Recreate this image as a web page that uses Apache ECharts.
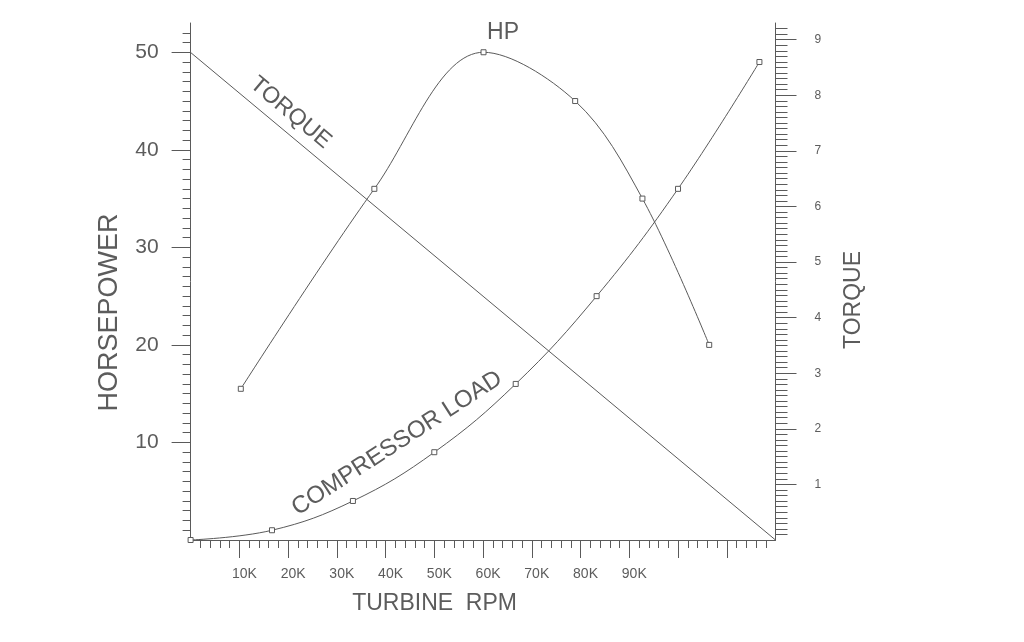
<!DOCTYPE html>
<html>
<head>
<meta charset="utf-8">
<script src="https://cdn.jsdelivr.net/npm/echarts@6/dist/echarts.min.js"></script>
<style>
  html, body { margin: 0; padding: 0; background: #ffffff; }
  #chart { width: 1024px; height: 642px; }
</style>
</head>
<body>
<div id="chart"></div>
<script>
// ---- data (RPM in thousands) ----
var hpRpm = [10.3, 37.7, 60.1, 78.9, 92.7, 106.4];
var hpValues = [15.5, 36, 50, 45, 35, 20];
var loadRpm = [0, 16.7, 33.3, 50, 66.7, 83.3, 100, 116.7];
var loadValues = [0, 1, 4, 9, 16, 25, 36, 49];
var torqueRpm = [0, 120];
var torqueValues = [8.77, 0];

var xTickValues = [10, 20, 30, 40, 50, 60, 70, 80, 90, 100, 110];
var xLabelValues = [10, 20, 30, 40, 50, 60, 70, 80, 90];
var xTickLabels = ['10K', '20K', '30K', '40K', '50K', '60K', '70K', '80K', '90K'];
var hpTickValues = [10, 20, 30, 40, 50];
var hpTickLabels = ['10', '20', '30', '40', '50'];
var torqueTickValues = [1, 2, 3, 4, 5, 6, 7, 8, 9];
var torqueTickLabels = ['1', '2', '3', '4', '5', '6', '7', '8', '9'];

// annotation anchors (data units: RPM K, horsepower)
var annotations = [
  { text: 'HP', at: [64.1, 52.0], rotate: 0, size: 23 },
  { text: 'TORQUE', at: [20.5, 43.8], rotate: -40, size: 23 },
  { text: 'COMPRESSOR LOAD', at: [42.35, 9.9], rotate: 33, size: 24 }
];

function zip(a, b) { return a.map(function (v, i) { return [v, b[i]]; }); }

var INK = '#5c5c5c';
var LINE = '#5a5a5a';
var FONT = '"Liberation Sans", Arial, sans-serif';

var chart = echarts.init(document.getElementById('chart'), null, { renderer: 'canvas' });

var option = {
  backgroundColor: '#ffffff',
  animation: false,
  textStyle: { fontFamily: FONT, color: INK },
  grid: { left: 190.6, right: 248.5, top: 23, bottom: 102 },
  xAxis: {
    type: 'value', min: 0, max: 120, interval: 10,
    name: 'TURBINE  RPM', nameLocation: 'middle', nameGap: 52,
    nameTextStyle: { fontSize: 23, color: INK, fontFamily: FONT, padding: [0, 97, 0, 0] },
    axisLine: { show: true, lineStyle: { color: LINE, width: 1 } },
    axisTick: { show: true, inside: false, length: 18, customValues: xTickValues, lineStyle: { color: LINE, width: 1 } },
    minorTick: { show: true, splitNumber: 5, length: 8, lineStyle: { color: LINE, width: 1 } },
    splitLine: { show: false },
    axisLabel: {
      customValues: xLabelValues, fontSize: 14, color: INK, margin: 27, fontFamily: FONT,
      padding: [0, 0, 0, 10],
      formatter: function (v) { var i = xLabelValues.indexOf(v); return i >= 0 ? xTickLabels[i] : ''; }
    }
  },
  yAxis: [
    {
      type: 'value', min: 0, max: 53, interval: 10, position: 'left',
      name: 'HORSEPOWER', nameLocation: 'middle', nameGap: 68, nameRotate: 90,
      nameTextStyle: { fontSize: 27, color: INK, fontFamily: FONT, padding: [0, 62, 0, 0] },
      axisLine: { show: true, lineStyle: { color: LINE, width: 1 } },
      axisTick: { show: true, inside: false, length: 19, customValues: hpTickValues, lineStyle: { color: LINE, width: 1 } },
      minorTick: { show: true, splitNumber: 10, length: 8, lineStyle: { color: LINE, width: 1 } },
      splitLine: { show: false },
      axisLabel: {
        customValues: hpTickValues, fontSize: 21, color: INK, margin: 32, fontFamily: FONT,
        formatter: function (v) { var i = hpTickValues.indexOf(v); return i >= 0 ? hpTickLabels[i] : ''; }
      }
    },
    {
      type: 'value', min: 0, max: 9.3, interval: 1, position: 'right',
      name: 'TORQUE', nameLocation: 'middle', nameGap: 67, nameRotate: 90,
      nameTextStyle: { fontSize: 23, color: INK, fontFamily: FONT, padding: [0, 37, 0, 0] },
      axisLine: { show: true, lineStyle: { color: LINE, width: 1 } },
      axisTick: { show: true, inside: false, length: 21, customValues: torqueTickValues, lineStyle: { color: LINE, width: 1 } },
      minorTick: { show: true, splitNumber: 10, length: 12, lineStyle: { color: LINE, width: 1 } },
      splitLine: { show: false },
      axisLabel: {
        customValues: torqueTickValues, fontSize: 12, color: INK, margin: 39, fontFamily: FONT,
        padding: [0, 0, 7, 0],
        formatter: function (v) { var i = torqueTickValues.indexOf(v); return i >= 0 ? torqueTickLabels[i] : ''; }
      }
    }
  ],
  series: [
    {
      name: 'HP', type: 'line', yAxisIndex: 0, data: zip(hpRpm, hpValues),
      smooth: 0.35, symbol: 'rect', symbolSize: 5, showSymbol: true,
      lineStyle: { color: LINE, width: 1 },
      itemStyle: { color: '#ffffff', borderColor: LINE, borderWidth: 1 }
    },
    {
      name: 'COMPRESSOR LOAD', type: 'line', yAxisIndex: 0, data: zip(loadRpm, loadValues),
      smooth: 0.4, symbol: 'rect', symbolSize: 5, showSymbol: true,
      lineStyle: { color: LINE, width: 1 },
      itemStyle: { color: '#ffffff', borderColor: LINE, borderWidth: 1 }
    },
    {
      name: 'TORQUE', type: 'line', yAxisIndex: 1, data: zip(torqueRpm, torqueValues),
      showSymbol: false, symbol: 'none',
      lineStyle: { color: LINE, width: 1 }
    }
  ]
};

chart.setOption(option);

var graphics = annotations.map(function (a) {
  var p = chart.convertToPixel({ xAxisIndex: 0, yAxisIndex: 0 }, a.at);
  return {
    type: 'text', x: p[0], y: p[1], rotation: a.rotate * Math.PI / 180,
    style: { text: a.text, fill: INK, font: a.size + 'px ' + FONT, align: 'center', verticalAlign: 'middle' }
  };
});
chart.setOption({ graphic: graphics });
</script>
</body>
</html>
